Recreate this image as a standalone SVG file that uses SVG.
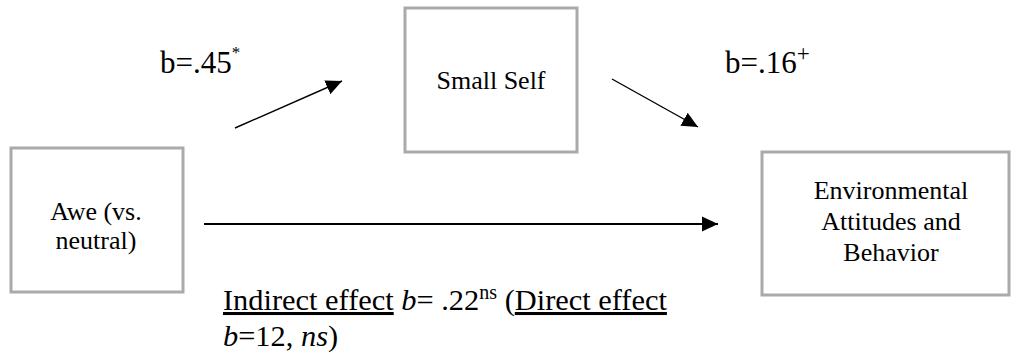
<svg xmlns="http://www.w3.org/2000/svg" width="1011" height="354" viewBox="0 0 1011 354">
<style>
.box{fill:#fff;stroke:#aaaaaa;stroke-width:3}
.node{font-size:26px}
.lbl{font-size:31px}
.bot{font-size:30.4px}
.conn{stroke:#000;fill:none}
.u{text-decoration:underline}
.i{font-style:italic}
</style>
<defs>
<marker id="ah" markerUnits="userSpaceOnUse" markerWidth="17" markerHeight="17" viewBox="0 0 17 17" refX="16" refY="8.5" orient="auto">
<path d="M0,1 L16,8.5 L0,16 Z" fill="#000"/>
</marker>
</defs>
<rect width="1011" height="354" fill="#fff"/>
<g font-family="'Liberation Serif', 'DejaVu Serif', serif" fill="#000">
<g id="awe">
<rect class="box" x="11" y="148" width="172" height="144"/>
<text class="node" text-anchor="middle" x="96" y="220">Awe (vs.</text>
<text class="node" text-anchor="middle" x="96" y="249">neutral)</text>
</g>
<g id="small-self">
<rect class="box" x="405" y="8" width="172" height="144"/>
<text class="node" text-anchor="middle" x="491" y="89">Small Self</text>
</g>
<g id="environmental">
<rect class="box" x="762" y="152" width="247" height="143"/>
<text class="node" text-anchor="middle" x="891" y="199">Environmental</text>
<text class="node" text-anchor="middle" x="891" y="230">Attitudes and</text>
<text class="node" text-anchor="middle" x="891" y="261">Behavior</text>
</g>
<g id="connectors">
<line class="conn" x1="235" y1="128" x2="342" y2="81" stroke-width="1.4" marker-end="url(#ah)"/>
<line class="conn" x1="612" y1="79" x2="698" y2="127" stroke-width="1.4" marker-end="url(#ah)"/>
<line class="conn" x1="204" y1="224" x2="718" y2="224" stroke-width="2" stroke="#222" marker-end="url(#ah)"/>
</g>
<g id="labels">
<text class="lbl" x="160" y="73">b=.45<tspan font-size="17" dy="-15">*</tspan></text>
<text class="lbl" x="725" y="73">b=.16<tspan font-size="23" dy="-12">+</tspan></text>
<text class="bot" x="223" y="310"><tspan class="u">Indirect effect</tspan> <tspan class="i">b</tspan>= .22<tspan font-size="20" dy="-11">ns</tspan><tspan dy="11"> (</tspan><tspan class="u">Direct effect</tspan></text>
<text class="bot" x="223" y="346"><tspan class="i">b</tspan>=12, <tspan class="i">ns</tspan>)</text>
</g>
</g>
</svg>
